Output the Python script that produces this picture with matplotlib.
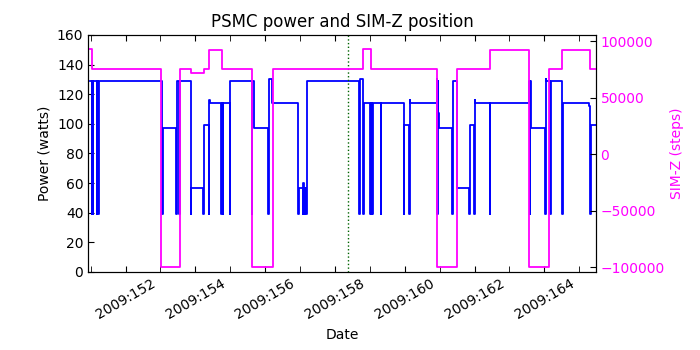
import matplotlib
matplotlib.use("Agg")
import matplotlib.pyplot as plt
from matplotlib.ticker import MultipleLocator, FuncFormatter

# PSMC power (watts) change points, day of year 2009
power_day = [150.98, 151.03, 151.05, 151.07, 151.08, 151.17, 151.19, 151.22, 151.24,
             153.04, 153.06, 153.45, 153.46, 153.54, 153.55, 153.87, 153.88,
             154.23, 154.24, 154.38, 154.39, 154.41, 154.74, 154.75, 154.79, 154.80,
             154.99, 155.00, 155.62, 155.63, 155.68, 156.09, 156.10, 156.20,
             156.95, 156.96, 157.08, 157.09, 157.11, 157.13, 157.14, 157.18, 157.19,
             158.70, 158.71, 158.81, 158.82, 159.01, 159.02, 159.04, 159.05, 159.07, 159.08,
             159.31, 159.32, 159.98, 159.99, 160.13, 160.14, 160.16,
             160.92, 160.93, 160.94, 160.95, 160.96, 160.98,
             161.36, 161.37, 161.49, 161.85, 161.86, 161.99, 162.00, 162.02,
             162.44, 162.45, 163.57, 163.58, 163.59, 163.62,
             164.03, 164.04, 164.06, 164.17, 164.18, 164.51, 164.52,
             165.27, 165.32, 165.33, 165.47]
power_watts = [129, 39, 129, 39, 129, 39, 129, 39, 129,
               39, 97, 39, 129, 39, 129, 39, 57,
               39, 99, 39, 116, 114, 39, 114, 39, 114,
               39, 129, 39, 129, 97, 39, 130, 114,
               39, 57, 39, 60, 57, 39, 57, 39, 129,
               39, 130, 39, 114, 39, 114, 39, 114, 39, 114,
               39, 114, 39, 99, 39, 116, 114,
               130, 39, 129, 118, 107, 97,
               39, 129, 57, 39, 99, 39, 116, 114,
               39, 114, 129, 39, 129, 97,
               39, 130, 129, 39, 129, 39, 114,
               112, 39, 99, 99]

# SIM-Z position (steps) change points
simz_day = [150.93, 151.03, 153.02, 153.56, 153.87, 154.25, 154.40, 154.75,
            155.63, 156.22, 158.81, 159.03, 160.93, 161.49, 162.44, 163.55,
            164.14, 164.51, 165.32, 165.47]
simz_steps = [93500, 75624, -99616, 75624, 72000, 75624, 92000, 75624,
              -99616, 75624, 92904, 75624, -99616, 75624, 92000, -99616,
              75624, 92000, 75624, 75624]

fig = plt.figure(figsize=(7, 3.5), dpi=100)
ax = fig.add_axes([0.126, 0.223, 0.725, 0.677])

ax.plot(power_day, power_watts, color='b', lw=1.3, drawstyle='steps-post')
ax.axvline(158.38, color='#006400', ls=':', lw=1)
ax.set_xlim(150.93, 165.47)
ax.set_ylim(0, 160)
ax.set_ylabel('Power (watts)')
ax.set_xlabel('Date')
ax.set_title('PSMC power and SIM-Z position', fontsize=12)

ax.xaxis.set_major_locator(MultipleLocator(2))
ax.xaxis.set_minor_locator(MultipleLocator(1))
ax.xaxis.set_major_formatter(FuncFormatter(lambda x, pos: '2009:%d' % round(x)))
ax.tick_params(axis='x', which='both', direction='in', top=True, length=4)
ax.tick_params(axis='y', direction='in', length=4)
for lab in ax.get_xticklabels():
    lab.set_rotation(30)
    lab.set_ha('center')

ax2 = ax.twinx()
ax2.plot(simz_day, simz_steps, color='magenta', lw=1.3, drawstyle='steps-post')
ax2.set_ylim(-104000, 105500)
ax2.set_xlim(150.93, 165.47)
ax2.set_ylabel('SIM-Z (steps)', color='magenta')
ax2.yaxis.set_major_locator(MultipleLocator(50000))
ax2.tick_params(axis='y', direction='in', length=4, labelcolor='magenta')

fig.savefig('out.png', dpi=100)
